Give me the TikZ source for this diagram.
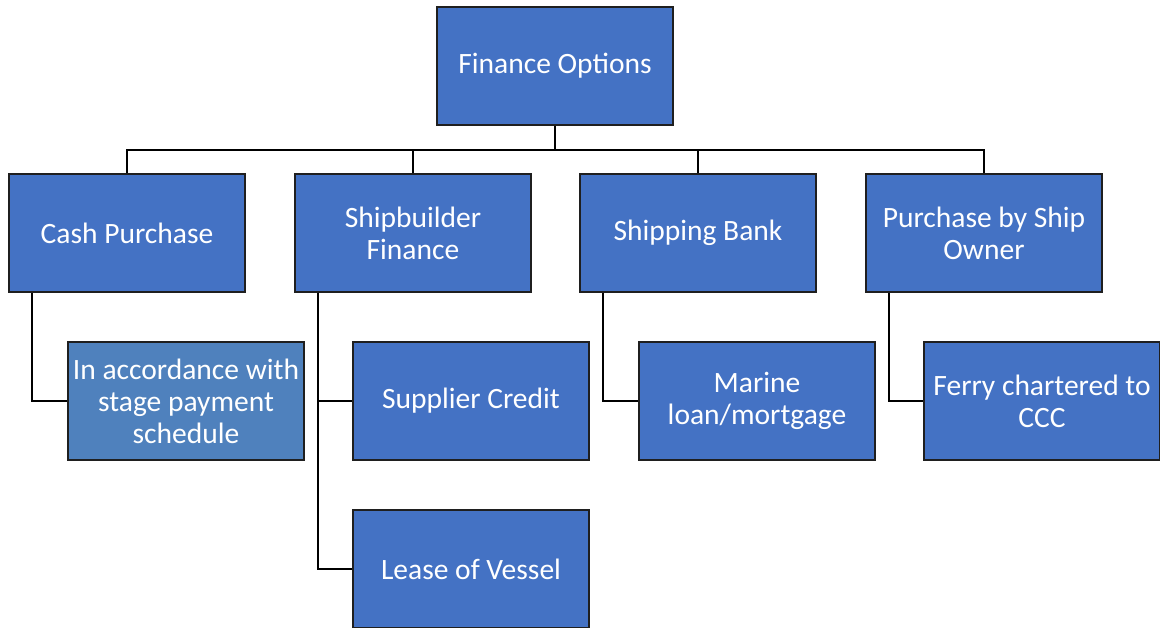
\documentclass[tikz,border=0pt]{standalone}
\usepackage{fontspec}
\setmainfont{Carlito}
\usetikzlibrary{positioning}
\definecolor{boxblue}{HTML}{4472C4}
\definecolor{stepblue}{HTML}{4F81BD}
\definecolor{boxline}{HTML}{1F1F1F}
\tikzset{
  fbox/.style={draw=boxline,line width=0.8pt,fill=boxblue,text=white,
    minimum width=4.72cm,minimum height=2.36cm,align=center,inner sep=2pt,
    font=\fontsize{16.8}{18.2}\selectfont},
  link/.style={draw=black,line width=1.1pt}
}
\begin{document}
\begin{tikzpicture}[x=0.02cm,y=-0.02cm]
\useasboundingbox (0,0) rectangle (1160,627);
%top of the chart
\node[fbox] (finance) at (555,66) {Finance Options};
%second row
\node[fbox] (cash) at (127,233) {Cash Purchase};
\node[fbox] (builder) at (413,233) {Shipbuilder\\Finance};
\node[fbox] (bank) at (698,233) {Shipping Bank};
\node[fbox] (owner) at (984,233) {Purchase by Ship\\Owner};
%third row
\node[fbox,fill=stepblue] (stage) at (186,401) {In accordance with\\stage payment\\schedule};
\node[fbox] (supplier) at (471,401) {Supplier Credit};
\node[fbox] (marine) at (757,401) {Marine\\loan/mortgage};
\node[fbox] (ferry) at (1042,401) {Ferry chartered to\\CCC};
\node[fbox] (lease) at (471,569) {Lease of Vessel};
%bus under the top box
\coordinate (bus) at (555,150);
\draw[link] (finance.south) -- (bus);
\draw[link] (cash.north) |- (bus) -| (owner.north);
\draw[link] (builder.north) -- (builder.north |- bus);
\draw[link] (bank.north) -- (bank.north |- bus);
%elbows down to the third row
\draw[link] ([xshift=0.48cm]cash.south west) |- (stage.west);
\draw[link] ([xshift=0.48cm]builder.south west) |- (supplier.west);
\draw[link] ([xshift=0.48cm]builder.south west) |- (lease.west);
\draw[link] ([xshift=0.48cm]bank.south west) |- (marine.west);
\draw[link] ([xshift=0.48cm]owner.south west) |- (ferry.west);
\end{tikzpicture}
\end{document}
